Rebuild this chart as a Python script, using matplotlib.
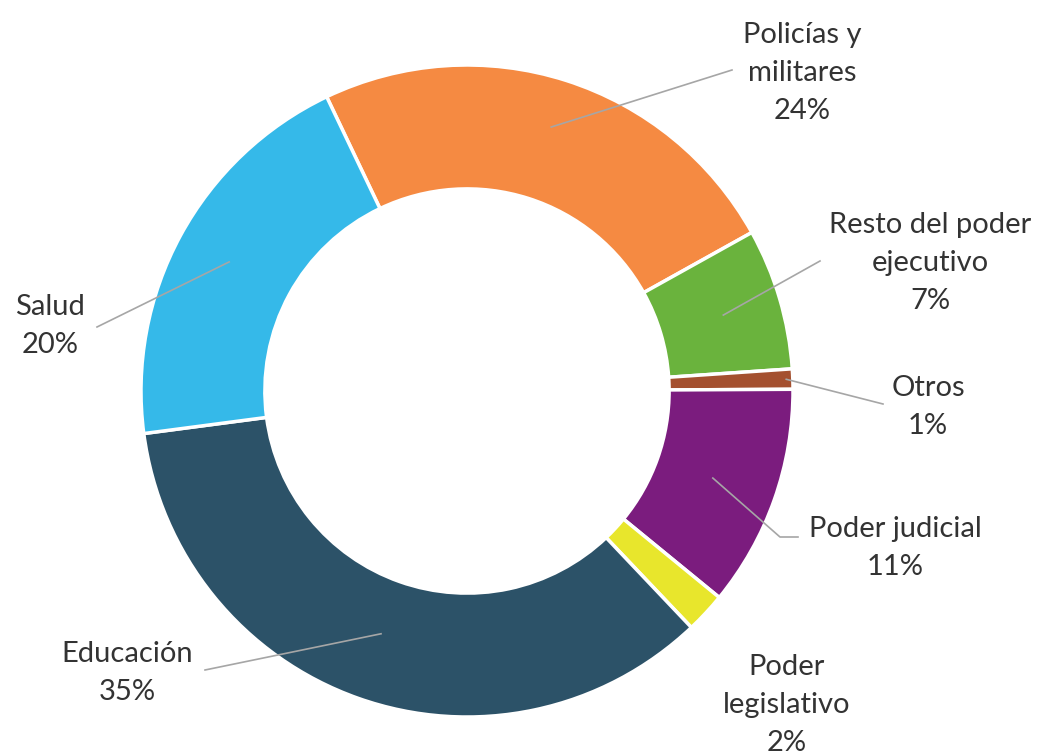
import matplotlib
matplotlib.use('Agg')
import matplotlib.pyplot as plt
import numpy as np

# distribución por sector
sectores = ['Policías y\nmilitares', 'Resto del poder\nejecutivo', 'Otros',
            'Poder judicial', 'Poder\nlegislativo', 'Educación', 'Salud']
porcentajes = [24, 7, 1, 11, 2, 35, 20]
colores = ['#F58A42', '#6AB33D', '#A4502F', '#7B1C7E', '#E8E62C', '#2C5268', '#35B9E9']

W, H = 1041, 754
cx, cy, R = 467, 391, 326

# posiciones de etiquetas (px, desde arriba) y fin de la línea guía
pos_etiqueta = [(802, 73), (930, 263), (928, 407), (895, 548), (787, 705), (127, 673), (50, 326)]
fin_linea = [(732, 70), (820, 261), (883, 404), (780, 537), None, (205, 670), (97, 327)]
codo = [None, None, None, (798, 537), None, None, None]
r_inicio = [0.85, 0.82, 0.98, 0.80, 0.8, 0.79, 0.83]

plt.rcParams['font.family'] = ['Lato', 'DejaVu Sans']

fig = plt.figure(figsize=(W / 100, H / 100), dpi=100)
ax = fig.add_axes([0, 0, 1, 1])

wedges, _ = ax.pie(porcentajes, colors=colores, startangle=115.5, counterclock=False,
                   radius=R, center=(cx, H - cy),
                   wedgeprops=dict(width=R * 0.38, edgecolor='white', linewidth=2.5))

for i, w in enumerate(wedges):
    if fin_linea[i] is not None:
        ang = np.deg2rad((w.theta1 + w.theta2) / 2)
        x0 = cx + r_inicio[i] * R * np.cos(ang)
        y0 = (H - cy) + r_inicio[i] * R * np.sin(ang)
        xs = [x0, fin_linea[i][0]]
        ys = [y0, H - fin_linea[i][1]]
        if codo[i] is not None:
            xs.append(codo[i][0])
            ys.append(H - codo[i][1])
        ax.plot(xs, ys, color='#A6A6A6', lw=1.2, zorder=3)
    tx, ty = pos_etiqueta[i]
    ax.text(tx, H - ty, f'{sectores[i]}\n{porcentajes[i]}%', ha='center', va='center',
            fontsize=21, color='#333333', linespacing=1.55)

ax.set_xlim(0, W)
ax.set_ylim(0, H)
ax.set_aspect('equal')
ax.axis('off')

plt.savefig('out.png', dpi=100, facecolor='white')
plt.close()
